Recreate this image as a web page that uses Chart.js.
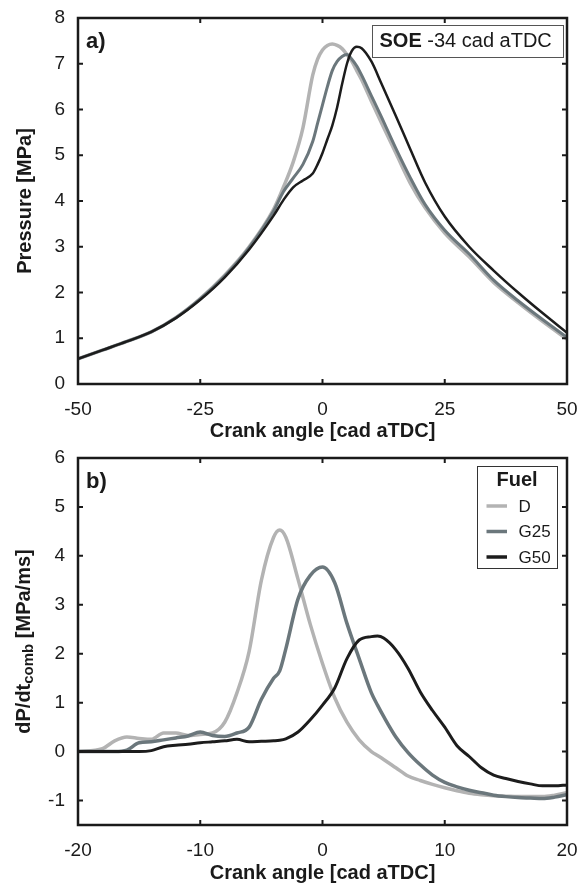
<!DOCTYPE html>
<html>
<head>
<meta charset="utf-8">
<script src="https://cdn.jsdelivr.net/npm/chart.js@4.4.1/dist/chart.umd.min.js"></script>
<style>
  body { margin: 0; background: #fff; }
  .wrap { position: absolute; left: 0; width: 582px; }
  #top { top: 0; height: 443px; }
  #bottom { top: 440px; height: 445px; }
</style>
</head>
<body>
<div class="wrap" id="top"><canvas id="pressure"></canvas></div>
<div class="wrap" id="bottom"><canvas id="rate"></canvas></div>
<script>
const fuels = ["D", "G25", "G50"];
const fuelColors = ["#b3b3b3", "#6b777c", "#1c1c1c"];

// a) cylinder pressure [MPa] vs crank angle
const cadTop = [-50, -45, -40, -35, -30, -25, -20, -15, -10, -8, -6, -4, -2, -1, 0, 1, 2, 3, 4, 5, 6, 7, 8, 10, 12, 15, 18, 21, 25, 30, 35, 40, 45, 50];
const pressureD = [0.55, 0.74, 0.93, 1.14, 1.45, 1.87, 2.38, 3.0, 3.82, 4.3, 4.85, 5.6, 6.75, 7.1, 7.3, 7.4, 7.43, 7.4, 7.33, 7.2, 7.05, 6.85, 6.65, 6.18, 5.72, 5.05, 4.38, 3.85, 3.3, 2.78, 2.22, 1.78, 1.37, 0.98];
const pressureG25 = [0.55, 0.74, 0.93, 1.14, 1.45, 1.86, 2.36, 2.98, 3.78, 4.2, 4.5, 4.8, 5.3, 5.7, 6.1, 6.5, 6.85, 7.05, 7.16, 7.2, 7.1, 6.95, 6.75, 6.3, 5.85, 5.15, 4.5, 3.92, 3.36, 2.84, 2.27, 1.82, 1.41, 1.02];
const pressureG50 = [0.55, 0.74, 0.93, 1.14, 1.44, 1.84, 2.33, 2.94, 3.68, 4.02, 4.3, 4.45, 4.6, 4.8, 5.05, 5.35, 5.65, 6.05, 6.55, 7.0, 7.28, 7.37, 7.34, 7.05, 6.58, 5.86, 5.12, 4.4, 3.66, 3.0, 2.48, 2.0, 1.55, 1.12];

// b) combustion pressure rise rate [MPa/ms]
const cadBottom = [-20, -18, -17, -16, -15, -14, -13, -12, -11, -10, -9, -8, -7, -6, -5, -4, -3.5, -3, -2, -1, 0, 1, 2, 3, 4, 4.5, 5, 6, 7, 8, 9, 10, 11, 12, 13, 14, 15, 16, 17, 18, 19, 20];
const rateD = [0, 0.06, 0.22, 0.3, 0.27, 0.25, 0.38, 0.38, 0.33, 0.35, 0.38, 0.6, 1.2, 2.05, 3.5, 4.38, 4.53, 4.38, 3.52, 2.6, 1.8, 1.1, 0.6, 0.24, 0.0, -0.08, -0.16, -0.33, -0.5, -0.59, -0.67, -0.74, -0.8, -0.85, -0.88, -0.9, -0.91, -0.92, -0.92, -0.92, -0.89, -0.84];
const rateG25 = [0, 0, 0, 0.03, 0.18, 0.2, 0.24, 0.28, 0.32, 0.4, 0.33, 0.31, 0.38, 0.5, 1.07, 1.5, 1.65, 2.1, 3.12, 3.6, 3.77, 3.45, 2.62, 1.9, 1.2, 0.95, 0.72, 0.3, -0.02, -0.27, -0.48, -0.63, -0.72, -0.79, -0.84, -0.89, -0.92, -0.94, -0.95, -0.96, -0.93, -0.88];
const rateG50 = [0, 0, 0, 0, 0, 0.02, 0.1, 0.13, 0.15, 0.18, 0.2, 0.22, 0.25, 0.2, 0.21, 0.22, 0.23, 0.26, 0.4, 0.65, 0.95, 1.3, 1.9, 2.28, 2.35, 2.36, 2.32, 2.08, 1.7, 1.22, 0.84, 0.5, 0.12, -0.1, -0.33, -0.48, -0.55, -0.61, -0.66, -0.7, -0.7, -0.68];

const xTicksTop = [-50, -25, 0, 25, 50];
const yTicksTop = [0, 1, 2, 3, 4, 5, 6, 7, 8];
const xTicksBottom = [-20, -10, 0, 10, 20];
const yTicksBottom = [-1, 0, 1, 2, 3, 4, 5, 6];

const FONT = '"Liberation Sans", Arial, sans-serif';
const INK = "#1a1a1a";
Chart.defaults.font.family = FONT;
Chart.defaults.color = INK;

function series(xs, ys) {
  return xs.map((x, i) => ({ x: x, y: ys[i] }));
}

function makeDatasets(xs, lists, widths) {
  return fuels.map((f, i) => ({
    label: f,
    data: series(xs, lists[i]),
    borderColor: fuelColors[i],
    borderWidth: widths[i],
    pointRadius: 0,
    cubicInterpolationMode: "monotone",
    order: 3 - i
  }));
}

// no extra room for overhanging tick labels, the layout padding does it
function noPad(s) {
  s.paddingTop = 0; s.paddingBottom = 0; s.paddingLeft = 0; s.paddingRight = 0;
}

// frame, inward ticks, panel letter, notes
const framePlugin = {
  id: "frame",
  afterDatasetsDraw(chart, args, opts) {
    const { ctx, chartArea: a, scales: { x, y } } = chart;
    ctx.save();
    ctx.strokeStyle = INK;
    ctx.lineWidth = 2;
    ctx.beginPath();
    x.ticks.forEach(t => {
      const px = x.getPixelForValue(t.value);
      ctx.moveTo(px, a.bottom); ctx.lineTo(px, a.bottom - 5);
      ctx.moveTo(px, a.top); ctx.lineTo(px, a.top + 5);
    });
    y.ticks.forEach(t => {
      const py = y.getPixelForValue(t.value);
      ctx.moveTo(a.left, py); ctx.lineTo(a.left + 5, py);
      ctx.moveTo(a.right, py); ctx.lineTo(a.right - 5, py);
    });
    ctx.stroke();
    ctx.lineWidth = 2.5;
    ctx.strokeRect(a.left, a.top, a.right - a.left, a.bottom - a.top);

    ctx.fillStyle = INK;
    ctx.textBaseline = "middle";
    ctx.textAlign = "left";
    ctx.font = "bold 22px " + FONT;
    ctx.fillText(opts.label, a.left + 8, a.top + 24);

    if (opts.note) {
      const bx = a.right - 195, by = a.top + 7;
      ctx.fillStyle = "#fff";
      ctx.fillRect(bx, by, 191, 32);
      ctx.strokeStyle = "#555";
      ctx.lineWidth = 1;
      ctx.strokeRect(bx + 0.5, by + 0.5, 191, 32);
      ctx.fillStyle = INK;
      ctx.font = "bold 20px " + FONT;
      ctx.fillText(opts.note[0], bx + 7.5, by + 16.5);
      const w = ctx.measureText(opts.note[0]).width;
      ctx.font = "20px " + FONT;
      ctx.fillText(opts.note[1], bx + 7.5 + w, by + 16.5);
    }

    if (opts.legend) {
      const bx = a.right - 90, by = a.top + 8;
      ctx.fillStyle = "#fff";
      ctx.fillRect(bx, by, 80, 102);
      ctx.strokeStyle = "#333";
      ctx.lineWidth = 1;
      ctx.strokeRect(bx + 0.5, by + 0.5, 80, 102);
      ctx.fillStyle = INK;
      ctx.textAlign = "center";
      ctx.font = "bold 20px " + FONT;
      ctx.fillText("Fuel", bx + 40, by + 14);
      ctx.textAlign = "left";
      ctx.font = "17px " + FONT;
      chart.data.datasets.forEach((ds, i) => {
        const ly = by + 40 + i * 25.5;
        ctx.strokeStyle = ds.borderColor;
        ctx.lineWidth = 3.5;
        ctx.beginPath();
        ctx.moveTo(bx + 9.5, ly); ctx.lineTo(bx + 30, ly);
        ctx.stroke();
        ctx.fillText(ds.label, bx + 41.5, ly + 1);
      });
    }

    if (opts.ytitle) {
      const big = "bold 20px " + FONT, small = "bold 15px " + FONT;
      const parts = [["dP/dt", big, 0], ["comb", small, 5], [" [MPa/ms]", big, 0]];
      let total = 0;
      parts.forEach(p => { ctx.font = p[1]; p.push(ctx.measureText(p[0]).width); total += p[3]; });
      ctx.translate(24, (a.top + a.bottom) / 2);
      ctx.rotate(-Math.PI / 2);
      let tx = -total / 2;
      parts.forEach(p => {
        ctx.font = p[1];
        ctx.fillText(p[0], tx, p[2]);
        tx += p[3];
      });
    }
    ctx.restore();
  }
};

function makeChart(id, datasets, xr, yr, xTicks, yTicks, plotBottom, canvasH, frameOpts, yTitle) {
  return new Chart(document.getElementById(id), {
    type: "line",
    data: { datasets: datasets },
    plugins: [framePlugin],
    options: {
      responsive: true,
      maintainAspectRatio: false,
      animation: false,
      devicePixelRatio: 1,
      layout: { padding: { top: 18, right: 15, left: 0, bottom: 0 } },
      plugins: { legend: { display: false }, tooltip: { enabled: false }, frame: frameOpts },
      scales: {
        x: {
          type: "linear",
          min: xr[0], max: xr[1],
          afterBuildTicks: s => { s.ticks = xTicks.map(v => ({ value: v })); },
          afterFit: s => { s.height = canvasH - plotBottom; noPad(s); },
          grid: { display: false, drawTicks: false },
          border: { display: false },
          ticks: { font: { size: 19 }, color: INK, padding: 14, maxRotation: 0, autoSkip: false },
          title: { display: true, text: "Crank angle [cad aTDC]", font: { size: 20, weight: "bold" }, color: INK, padding: 0 }
        },
        y: {
          type: "linear",
          min: yr[0], max: yr[1],
          afterBuildTicks: s => { s.ticks = yTicks.map(v => ({ value: v })); },
          afterFit: s => { s.width = 78; noPad(s); },
          grid: { display: false, drawTicks: false },
          border: { display: false },
          ticks: { font: { size: 19 }, color: INK, padding: 13, autoSkip: false },
          title: { display: !!yTitle, text: yTitle || "", font: { size: 20, weight: "bold" }, color: INK, padding: { top: 13, bottom: 0 } }
        }
      }
    }
  });
}

makeChart("pressure",
  makeDatasets(cadTop, [pressureD, pressureG25, pressureG50], [3.5, 3, 2.5]),
  [-50, 50], [0, 8], xTicksTop, yTicksTop, 384, 443,
  { label: "a)", note: ["SOE", " -34 cad aTDC"] }, "Pressure [MPa]");

makeChart("rate",
  makeDatasets(cadBottom, [rateD, rateG25, rateG50], [3.5, 3.5, 3]),
  [-20, 20], [-1.5, 6], xTicksBottom, yTicksBottom, 385, 445,
  { label: "b)", legend: true, ytitle: true }, null);
</script>
</body>
</html>
